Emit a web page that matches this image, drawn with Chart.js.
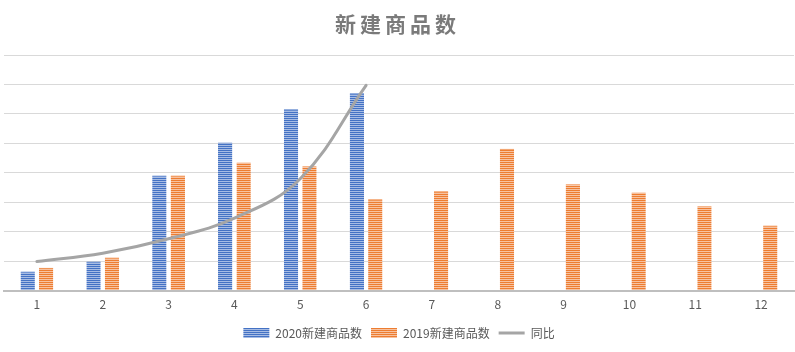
<!DOCTYPE html>
<html><head><meta charset="utf-8">
<script src="https://cdn.jsdelivr.net/npm/chart.js@4.4.1/dist/chart.umd.min.js"></script>
<style>
html,body{margin:0;padding:0;background:#fff;}
#wrap{position:relative;width:795px;height:352px;}
#title{position:absolute;left:0;top:8px;width:795px;text-align:center;font:bold 21px "Noto Sans CJK SC",sans-serif;color:#7a7a7a;letter-spacing:4px;line-height:30px;}
canvas{position:absolute;left:0;top:0;}
</style></head>
<body><div id="wrap"><canvas id="c" width="795" height="352"></canvas><div id="title">新建商品数</div></div>
<script>
const categories = ['1','2','3','4','5','6','7','8','9','10','11','12'];
const series2020 = [65, 99, 391, 503, 616, 670, null, null, null, null, null, null];
const series2019 = [78, 112, 391, 435, 422, 310, 337, 482, 361, 333, 286, 221];
const yoy = [99, 127, 176, 246, 380, 697];
const seriesNames = ['2020新建商品数', '2019新建商品数', '同比'];

function stripe(dark, light){
  const p = document.createElement('canvas'); p.width = 4; p.height = 2;
  const g = p.getContext('2d');
  g.fillStyle = dark; g.fillRect(0,0,4,1);
  g.fillStyle = light; g.fillRect(0,1,4,1);
  return g.createPattern(p, 'repeat');
}
const ctx = document.getElementById('c').getContext('2d');
const blueP = stripe('#4472C4', '#A7BCE4');
const orangeP = stripe('#ED7D31', '#F7C2A0');
const font = '"Noto Sans CJK SC", sans-serif';

new Chart(ctx, {
  type: 'bar',
  data: {
    labels: categories,
    datasets: [
      {label: seriesNames[0], data: series2020, backgroundColor: blueP, borderColor: '#4472C4', borderWidth: {top:1,left:0,right:0,bottom:0}, order: 1, categoryPercentage: 0.56, barPercentage: 0.78},
      {label: seriesNames[1], data: series2019, backgroundColor: orangeP, borderColor: '#ED7D31', borderWidth: {top:1,left:0,right:0,bottom:0}, order: 1, categoryPercentage: 0.56, barPercentage: 0.78},
      {type: 'line', label: seriesNames[2], data: yoy, borderColor: '#A5A5A5', backgroundColor: '#A5A5A5', borderWidth: 3, pointRadius: 0, tension: 0.4, order: 0, borderCapStyle: 'round'}
    ]
  },
  options: {
    responsive: false, animation: false,
    layout: {padding: {top: 55, left: 4, right: 1, bottom: 3}},
    plugins: {
      title: {display: false},
      tooltip: {enabled: false},
      legend: {
        position: 'bottom',
        labels: {
          font: {family: font, size: 12}, color: '#595959', padding: 9,
          usePointStyle: true, pointStyleWidth: 26, boxHeight: 10,
          generateLabels: (chart) => chart.data.datasets.map((d, i) => ({
            text: d.label, datasetIndex: i, fontColor: '#595959',
            fillStyle: i === 2 ? '#A5A5A5' : (i === 0 ? blueP : orangeP),
            strokeStyle: i === 2 ? '#A5A5A5' : (i === 0 ? '#4472C4' : '#ED7D31'),
            lineWidth: i === 2 ? 3 : 0,
            pointStyle: i === 2 ? 'line' : 'rect', hidden: false
          }))
        }
      }
    },
    scales: {
      x: {
        grid: {display: false},
        border: {color: '#BFBFBF', width: 2},
        ticks: {font: {family: font, size: 12}, color: '#595959', padding: -1},
        afterFit: (s) => { s.height += 7; }
      },
      y: {
        min: 0, max: 800,
        ticks: {display: false, stepSize: 100},
        grid: {color: '#D9D9D9', drawTicks: false},
        border: {display: false}
      }
    }
  }
});
</script></body></html>
